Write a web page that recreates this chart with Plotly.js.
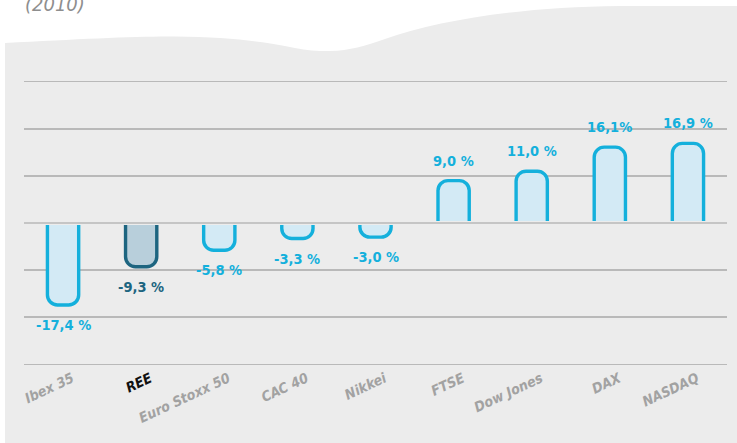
<!DOCTYPE html>
<html>
<head>
<meta charset="utf-8">
<script src="https://cdn.plot.ly/plotly-3.0.1.min.js"></script>
<style>html,body{margin:0;padding:0;background:#fff;}#chart{width:737px;height:443px;}</style>
</head>
<body>
<div id="chart"></div>
<script>
// ---- data ----
var categories = ["Ibex 35","REE","Euro Stoxx 50","CAC 40","Nikkei","FTSE","Dow Jones","DAX","NASDAQ"];
var values = [-17.4, -9.3, -5.8, -3.3, -3.0, 9.0, 11.0, 16.1, 16.9];
var valueLabels = ["-17,4 %","-9,3 %","-5,8 %","-3,3 %","-3,0 %","9,0 %","11,0 %","16,1%","16,9 %"];
var highlight = "REE";
var yearLabel = "(2010)";
var yTicks = [-30, -20, -10, 0, 10, 20, 30];

// ---- styles ----
var W = 737, H = 443;
var mL = 24, mR = 10, mT = 77, mB = 74;
var plotW = W - mL - mR, plotH = H - mT - mB;
function px(x){ return (x - mL) / plotW; }
function py(y){ return (H - mB - y) / plotH; }

var cyan = "#14b0dc", cyanFill = "#d3eaf5";
var dark = "#1d6580", darkFill = "#b8cfdb";
var panel = "#ececec", grid = "#b9b9b9";
var font = "DejaVu Sans Condensed, DejaVu Sans, sans-serif";

var fills = categories.map(function(c){ return c === highlight ? darkFill : cyanFill; });
var lines = categories.map(function(c){ return c === highlight ? dark : cyan; });

var trace = {
  type: "bar",
  x: categories,
  y: values,
  width: 0.40,
  marker: { color: fills, line: { color: lines, width: 3.4 }, cornerradius: 10 },
  hoverinfo: "none"
};

var annotations = values.map(function(v, i){
  return {
    x: categories[i], y: v, xref: "x", yref: "y",
    text: "<b>" + valueLabels[i] + "</b>",
    showarrow: false, yshift: v >= 0 ? 20 : -20,
    font: { family: font, size: 14.5, color: lines[i] }
  };
});
annotations.push({
  xref: "paper", yref: "paper", x: px(23), y: py(18), xanchor: "left", yanchor: "bottom",
  text: yearLabel, showarrow: false,
  font: { family: font, size: 20, color: "#8e8e8e", style: "italic" }
});

// panel with wavy top edge (pixel path converted to paper units)
var pts = [
  ["M",[5,443]],["L",[5,43]],
  ["C",[80,39],[140,36],[175,36.5]],
  ["C",[230,37],[265,42],[290,47]],
  ["C",[305,50],[315,51.5],[330,51]],
  ["C",[350,50.5],[365,46],[385,39]],
  ["C",[440,20],[520,7],[620,6]],
  ["L",[737,6]],["L",[737,443]]
];
var path = pts.map(function(seg){
  return seg[0] + " " + seg.slice(1).map(function(p){ return px(p[0]).toFixed(5) + "," + py(p[1]).toFixed(5); }).join(" ");
}).join(" ") + " Z";

var shapes = [
  { type: "path", xref: "paper", yref: "paper", path: path, fillcolor: panel, line: { width: 0 }, layer: "below" },
  { type: "line", xref: "paper", yref: "y", x0: 0, x1: 1, y0: 0, y1: 0, line: { color: panel, width: 4 }, layer: "above" },
  { type: "line", xref: "paper", yref: "y", x0: 0, x1: 1, y0: 0, y1: 0, line: { color: grid, width: 1.5 }, layer: "above" }
];

var tickText = categories.map(function(c){
  return c === highlight ? '<span style="color:#111111">' + c + '</span>' : c;
});

var layout = {
  width: W, height: H,
  margin: { l: mL, r: mR, t: mT, b: mB, pad: 0 },
  paper_bgcolor: "#ffffff",
  plot_bgcolor: "rgba(0,0,0,0)",
  showlegend: false,
  xaxis: {
    type: "category", categoryorder: "array", categoryarray: categories,
    tickvals: categories, ticktext: tickText,
    range: [-0.5, categories.length - 0.5],
    tickangle: -25, ticks: "", showgrid: false, zeroline: false, showline: false,
    ticklabelshift: 9, ticklabelstandoff: -2,
    tickfont: { family: font, size: 14, color: "#a2a2a2", style: "italic", weight: "bold" },
    fixedrange: true
  },
  yaxis: {
    range: [-31, 31], tickvals: yTicks, showticklabels: false,
    showgrid: true, gridcolor: grid, gridwidth: 1.5,
    zeroline: false, showline: false, fixedrange: true
  },
  shapes: shapes,
  annotations: annotations
};

Plotly.newPlot("chart", [trace], layout, { staticPlot: true, displayModeBar: false });
</script>
</body>
</html>
